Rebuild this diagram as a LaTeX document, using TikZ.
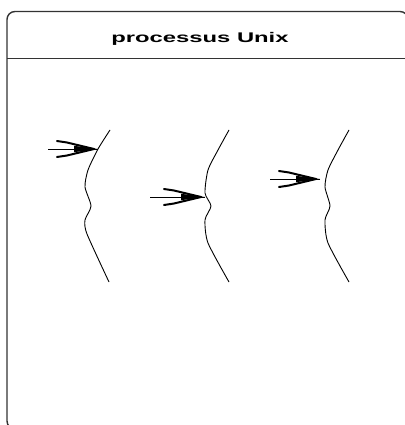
\documentclass[tikz,border=0pt]{standalone}
\usepackage{fontspec}
\setmainfont{Liberation Sans}
\begin{document}
\begin{tikzpicture}[x=1pt,y=-1pt,
  frame/.style={draw=black!80, line width=1.4pt, rounded corners=8pt},
  divider/.style={draw=black!80, line width=1.4pt},
  thread/.style={draw=black, line width=0.9pt, smooth, tension=0.4},
  shaft/.style={draw=black, line width=0.9pt},
  barb/.style={draw=black, line width=2pt, line cap=round, line join=round},
  title/.style={font=\bfseries\fontsize{14}{16}\selectfont, anchor=base, inner sep=0pt},
  pics/barbhead/.style={code={
    \draw[barb] (-41,-8) -- (-31,-6.5) -- (-4,0);
    \draw[barb] (-41,8) -- (-31,6.5) -- (-4,0);
    \fill (-24,-3.2) -- (0,0) -- (-24,3.2) -- cycle;
  }}]
\useasboundingbox (0,0) rectangle (404,425);

% process frame with its title compartment
\path[frame] (7,11.5) rectangle (408,429);
\draw[divider] (7,58.7) -- (408,58.7);
\node[title] (titre) at (200,42.3) {\scalebox{1.7}[1]{processus Unix}};

% three threads
\draw[thread] plot coordinates {(110,130) (98,149) (88,170) (85,187) (91,206) (85,220) (87,234) (109,282)};
\draw[thread] plot coordinates {(229,130) (218,150) (208,170) (205,193) (211,206) (205,220) (208,243) (229,282)};
\draw[thread] plot coordinates {(349,130) (338,150) (328,170) (325,187) (330,206) (325,220) (328,243) (349,282)};

% entry points and arrow starts
\coordinate (t1) at (98,149);  \coordinate (s1) at (48,149);
\coordinate (t2) at (205,197); \coordinate (s2) at (150,197);
\coordinate (t3) at (320,179); \coordinate (s3) at (270,179);

% incoming arrows
\draw[shaft] (s1) -- (t1);
\draw[shaft] (s2) -- (t2);
\draw[shaft] (s3) -- (t3);
\pic at (t1) {barbhead};
\pic at (t2) {barbhead};
\pic at (t3) {barbhead};
\end{tikzpicture}
\end{document}
